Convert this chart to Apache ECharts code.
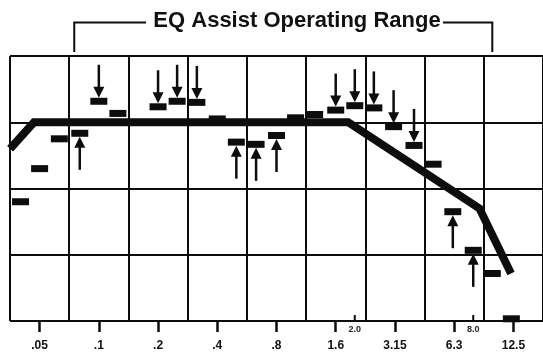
<!DOCTYPE html>
<html>
<head>
<meta charset="utf-8">
<script src="https://cdn.jsdelivr.net/npm/echarts@6/dist/echarts.min.js"></script>
<style>
  html, body { margin: 0; padding: 0; background: #ffffff; }
  #chart { width: 543px; height: 352px; }
</style>
</head>
<body>
<div id="chart"></div>
<script>
// Octave band labels along the bottom axis (kHz)
const bandLabels = ['.05', '.1', '.2', '.4', '.8', '1.6', '3.15', '6.3', '12.5'];

// Extra reference marks just under the axis (kHz)
const markFreqs = [2.0, 8.0];
const markLabels = ['2.0', '8.0'];

// EQ target curve: frequency (kHz) and level (dB)
const curveFreqs = [0.0354, 0.0468, 1.85, 8.6, 12.45];
const curveLevels = [-2.4, 0, 0, -7.8, -13.7];

// 1/3-octave measurements: frequency (kHz) and level (dB)
const thirdOctFreqs = [0.04, 0.05, 0.063, 0.08, 0.1, 0.125, 0.16, 0.2, 0.25, 0.315,
  0.4, 0.5, 0.63, 0.8, 1.0, 1.25, 1.6, 2.0, 2.5, 3.15, 4.0, 5.0, 6.3, 8.0, 10, 12.5];
const thirdOctLevels = [-7.2, -4.2, -1.5, -1.0, 1.9, 0.8, null, 1.4, 1.9, 1.8,
  0.3, -1.8, -2.0, -1.2, 0.4, 0.7, 1.1, 1.5, 1.3, -0.4, -2.1, -3.8, -8.1, -11.6, -13.7, -17.8];

// Correction applied per band: 1 = boost (arrow up), -1 = cut (arrow down), 0 = none
const correction = [0, 0, 0, 1, -1, 0, 0, -1, -1, -1,
  0, 1, 1, 1, 0, 0, -1, -1, -1, -1, -1, 0, 1, 1, 0, 0];

// Frequency span covered by EQ Assist (kHz)
const assistRange = [0.075, 10];

const TITLE = 'EQ Assist Operating Range';
const INK = '#0d0d0d';
const FONT = '"Liberation Sans", Arial, Helvetica, sans-serif';

// Position on the horizontal axis in octaves: cell i spans [i, i+1], centred on bandLabels[i]
function octPos(f) { return Math.log2(f / 0.05) + 0.5; }

const curveData = curveFreqs.map((f, i) => [octPos(f), curveLevels[i]]);
const bandData = [];
thirdOctFreqs.forEach((f, i) => {
  if (thirdOctLevels[i] !== null) bandData.push([octPos(f), thirdOctLevels[i], correction[i]]);
});
const markData = markFreqs.map((f, i) => [octPos(f), -18, markLabels[i]]);

function renderBand(params, api) {
  const p = api.coord([api.value(0), api.value(1)]);
  const dir = api.value(2);
  const w = 17, h = 7;
  const top = p[1] - h / 2, bottom = p[1] + h / 2;
  const children = [{
    type: 'rect',
    shape: { x: p[0] - w / 2, y: top, width: w, height: h },
    style: { fill: INK }
  }];
  const len = 33, headL = 11, headW = 11;
  if (dir === -1) {
    children.push({ type: 'line', shape: { x1: p[0], y1: top - len, x2: p[0], y2: top - headL + 1 },
      style: { stroke: INK, lineWidth: 2.5 } });
    children.push({ type: 'polygon', shape: { points: [[p[0] - headW / 2, top - headL], [p[0] + headW / 2, top - headL], [p[0], top]] },
      style: { fill: INK } });
  } else if (dir === 1) {
    children.push({ type: 'line', shape: { x1: p[0], y1: bottom + len, x2: p[0], y2: bottom + headL - 1 },
      style: { stroke: INK, lineWidth: 2.5 } });
    children.push({ type: 'polygon', shape: { points: [[p[0] - headW / 2, bottom + headL], [p[0] + headW / 2, bottom + headL], [p[0], bottom]] },
      style: { fill: INK } });
  }
  return { type: 'group', children };
}

function renderMark(params, api) {
  const p = api.coord([api.value(0), api.value(1)]);
  return {
    type: 'group',
    children: [
      { type: 'line', shape: { x1: p[0], y1: p[1] - 6, x2: p[0], y2: p[1] }, style: { stroke: INK, lineWidth: 2 } },
      { type: 'text', x: p[0], y: p[1] + 8.5,
        style: { text: markLabels[params.dataIndex], align: 'center', verticalAlign: 'middle',
          font: 'bold 9px ' + FONT, fill: '#222' } }
    ]
  };
}

function renderBracket(params, api) {
  const xl = api.coord([api.value(0), 0])[0];
  const xr = api.coord([api.value(1), 0])[0];
  const top = params.coordSys.y;
  const yb = 22.5;
  return {
    type: 'group',
    children: [
      { type: 'polyline', shape: { points: [[xl, top - 4], [xl, yb], [146, yb]] },
        style: { stroke: INK, lineWidth: 2, fill: null } },
      { type: 'polyline', shape: { points: [[443, yb], [xr, yb], [xr, top - 4]] },
        style: { stroke: INK, lineWidth: 2, fill: null } },
      { type: 'text', x: 297, y: 20.5,
        style: { text: TITLE, align: 'center', verticalAlign: 'middle',
          font: 'bold 22px ' + FONT, fill: '#111' } }
    ]
  };
}

const chart = echarts.init(document.getElementById('chart'), null, { renderer: 'canvas' });
chart.setOption({
  backgroundColor: '#ffffff',
  animation: false,
  grid: { left: 10, right: -1, top: 56, bottom: 30 },
  xAxis: [
    {
      type: 'value', min: 0, max: 9, interval: 1, position: 'top',
      axisLine: { show: false }, axisTick: { show: false }, axisLabel: { show: false },
      splitLine: { show: true, lineStyle: { color: INK, width: 2 } }
    },
    {
      type: 'category', data: bandLabels, position: 'bottom', boundaryGap: true,
      axisLine: { show: false },
      axisTick: { show: true, alignWithLabel: true, length: 11, lineStyle: { color: INK, width: 2.5 } },
      axisLabel: { margin: 19, fontSize: 12, fontWeight: 'bold', fontFamily: FONT, color: '#111' },
      splitLine: { show: false }
    }
  ],
  yAxis: {
    type: 'value', min: -18, max: 6, interval: 6,
    axisLine: { show: false }, axisTick: { show: false }, axisLabel: { show: false },
    splitLine: { show: true, lineStyle: { color: INK, width: 2 } }
  },
  series: [
    { type: 'custom', xAxisIndex: 0, renderItem: renderBand, data: bandData, z: 2, clip: false },
    {
      type: 'line', xAxisIndex: 0, data: curveData, symbol: 'none', z: 3,
      lineStyle: { color: INK, width: 8, join: 'miter', cap: 'butt' }
    },
    { type: 'custom', xAxisIndex: 0, renderItem: renderMark, data: markData, z: 4, clip: false },
    { type: 'custom', xAxisIndex: 0, renderItem: renderBracket, data: [[octPos(assistRange[0]), octPos(assistRange[1])]], z: 4, clip: false }
  ]
});
</script>
</body>
</html>
